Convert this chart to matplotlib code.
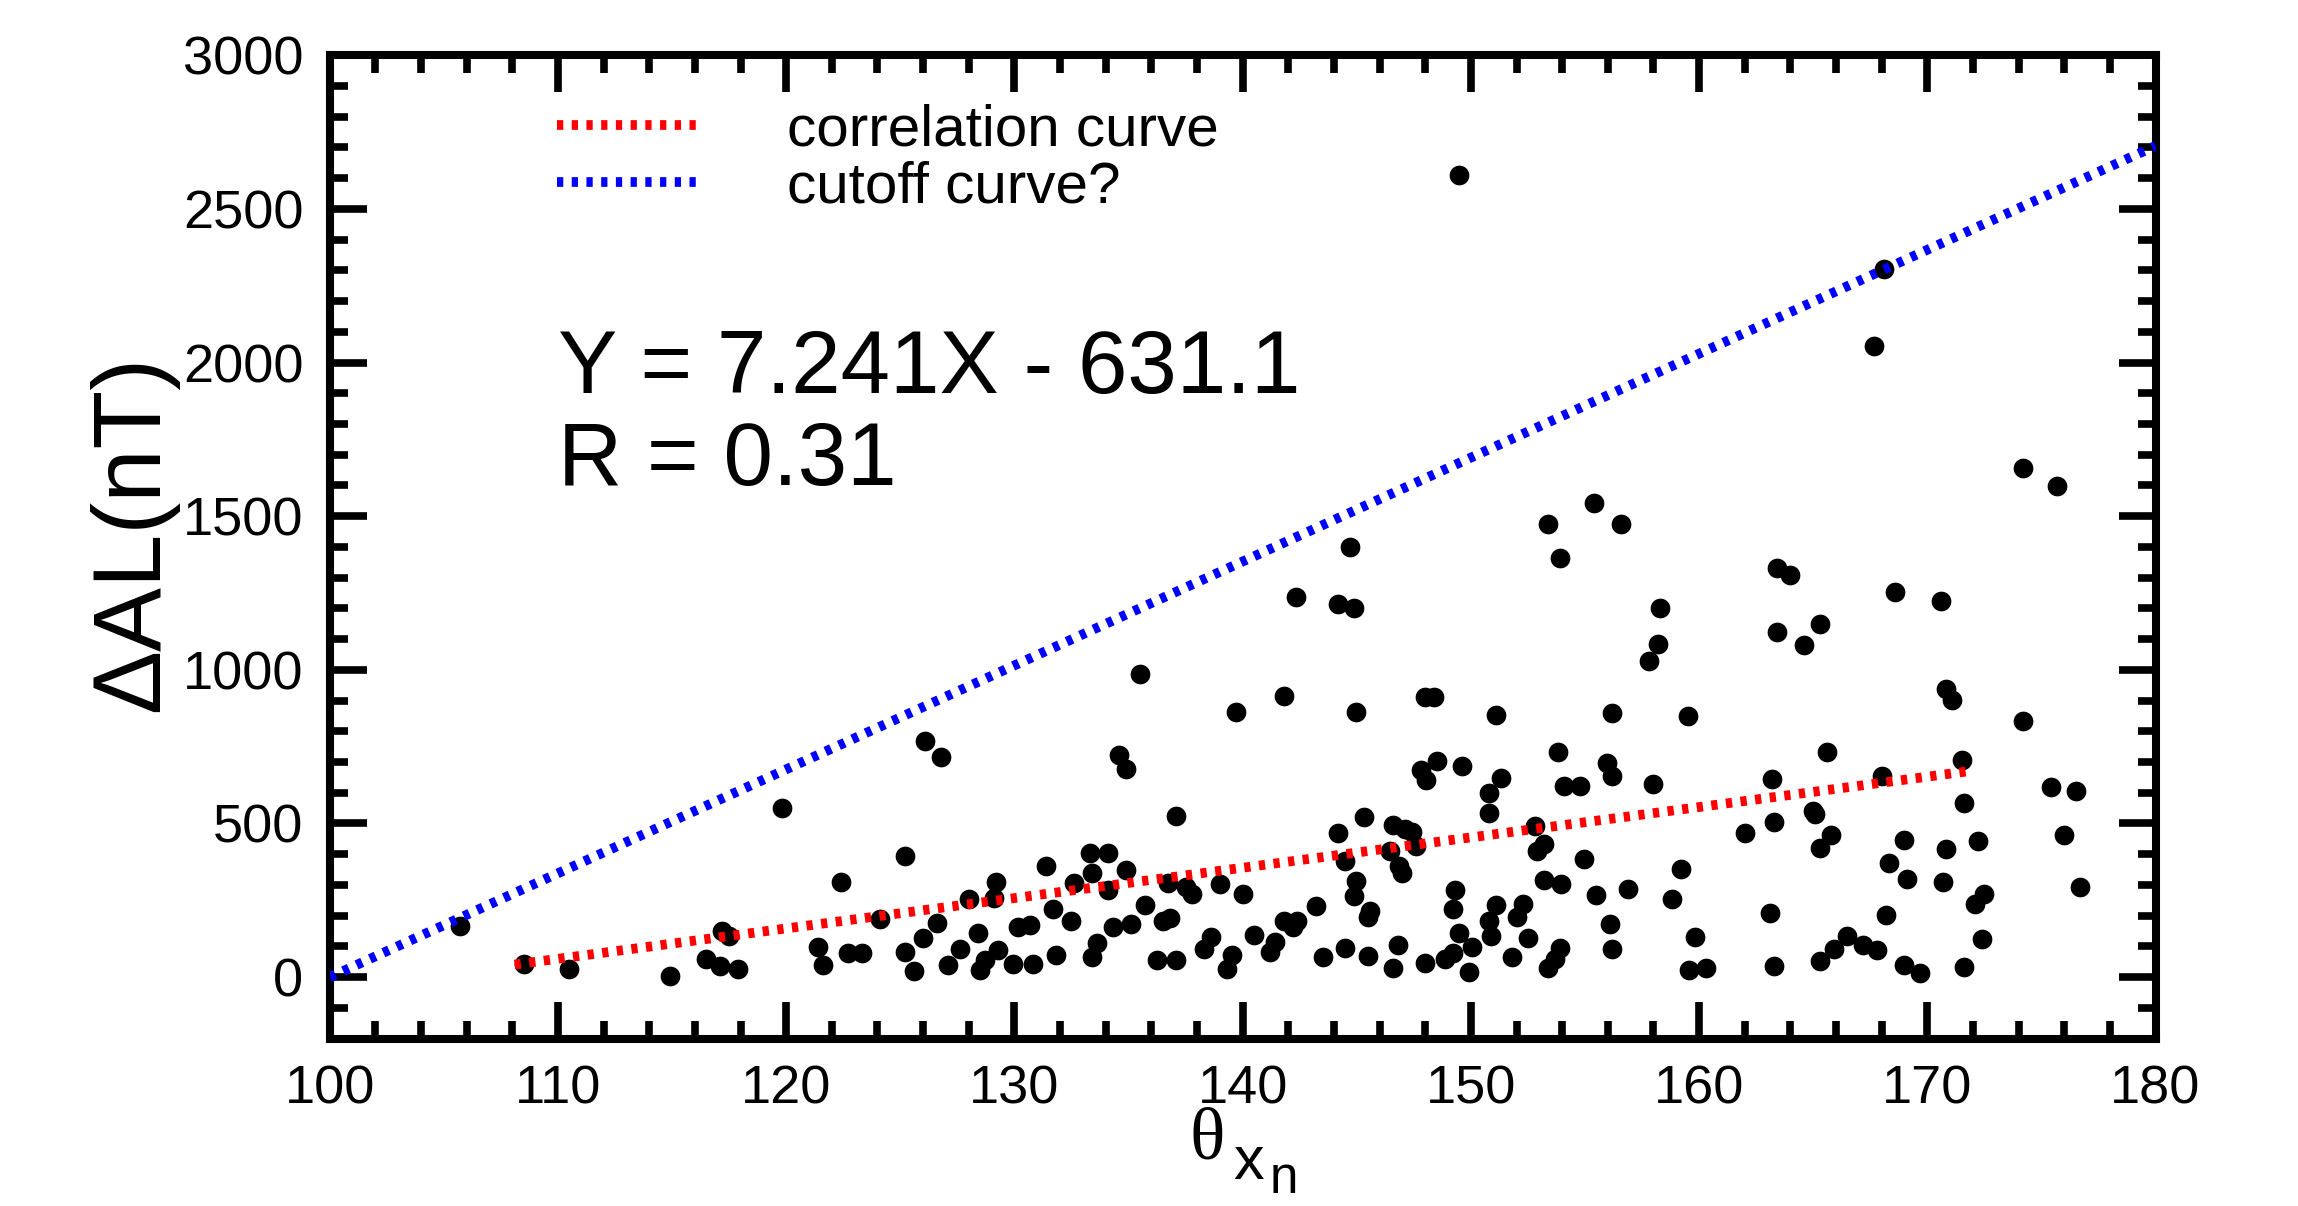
import matplotlib
matplotlib.use('Agg')
import matplotlib.pyplot as plt
from matplotlib.ticker import MultipleLocator

plt.rcParams['font.family'] = ['Liberation Sans', 'DejaVu Sans']
plt.rcParams['lines.scale_dashes'] = False

# scatter data: theta_xn (deg) vs delta AL (nT)
theta_xn = [105.7, 108.5, 110.5, 114.9, 116.5, 117.1, 117.9, 117.2, 117.5, 119.8,
            121.4, 121.6, 122.4, 122.7, 123.3, 124.1, 125.2, 125.2, 125.6, 126.0,
            126.1, 126.6, 126.8, 127.1, 127.6, 128.0, 128.4, 128.5, 128.7, 129.1,
            129.2, 129.3, 129.95, 130.15, 130.7, 130.8, 131.4, 131.7, 131.8, 132.5,
            132.6, 133.3, 133.4, 133.4, 133.6, 134.1, 134.1, 134.3, 134.6, 134.9,
            134.9, 135.1, 135.5, 135.7, 136.25, 136.5, 136.75, 136.8, 137.1, 137.1,
            137.5, 137.8, 138.3, 138.6, 139.0, 139.3, 139.55, 139.7, 140.0, 140.5,
            141.2, 141.4, 141.8, 141.8, 142.2, 142.35, 142.4, 143.2, 143.5, 144.2,
            144.2, 144.5, 144.5, 144.7, 144.9, 144.9, 144.95, 144.95, 145.3, 145.5,
            145.5, 145.6, 146.45, 146.6, 146.6, 146.8, 146.85, 147.0, 147.1, 147.4,
            147.6, 147.8, 148.0, 148.0, 148.05, 148.4, 148.5, 148.85, 149.2, 149.2,
            149.3, 149.5, 149.5, 149.6, 149.9, 150.05, 150.8, 150.8, 150.8, 150.9,
            151.1, 151.1, 151.3, 151.8, 152.0, 152.3, 152.5, 152.8, 152.9, 153.2,
            153.2, 153.4, 153.4, 153.7, 153.8, 153.9, 153.9, 153.97, 154.1, 154.8,
            154.96, 155.4, 155.5, 155.95, 156.1, 156.2, 156.2, 156.2, 156.6, 156.9,
            157.8, 158.0, 158.2, 158.3, 158.8, 159.2, 159.5, 159.55, 159.8, 160.3,
            162.0, 163.1, 163.2, 163.3, 163.3, 163.4, 163.4, 164.0, 164.6, 165.0,
            165.1, 165.3, 165.3, 165.3, 165.6, 165.8, 165.9, 166.5, 167.2, 167.65,
            167.8, 168.0, 168.1, 168.2, 168.3, 168.6, 169.0, 169.0, 169.1, 169.7,
            170.6, 170.7, 170.8, 170.8, 171.1, 171.5, 171.6, 171.6, 172.1, 172.2,
            172.4, 172.5, 174.2, 174.2, 175.4, 175.7, 176.0, 176.5, 176.7]
delta_al = [165, 44, 26, 5, 58, 36, 28, 150, 133, 552,
            98, 40, 308, 77, 77, 189, 394, 81, 19, 127,
            767, 176, 715, 40, 93, 253, 145, 23, 56, 259,
            310, 87, 42, 163, 169, 42, 363, 222, 72, 184,
            307, 403, 340, 65, 110, 404, 284, 163, 722, 678,
            350, 173, 986, 235, 55, 182, 307, 192, 525, 57,
            294, 272, 91, 132, 303, 25, 72, 863, 272, 136,
            82, 113, 916, 182, 163, 1238, 184, 232, 64, 1215,
            469, 379, 95, 1400, 1201, 263, 864, 313, 522, 197,
            69, 216, 409, 496, 30, 105, 363, 338, 481, 471,
            428, 674, 913, 45, 643, 913, 703, 60, 221, 79,
            285, 2610, 143, 688, 18, 97, 599, 535, 182, 135,
            852, 235, 648, 67, 195, 238, 128, 491, 410, 434,
            317, 1476, 29, 60, 733, 1363, 95, 302, 622, 622,
            384, 1544, 268, 696, 173, 859, 656, 92, 1476, 287,
            1028, 628, 1083, 1201, 255, 352, 849, 23, 132, 29,
            469, 210, 645, 505, 37, 1333, 1123, 1308, 1082, 541,
            532, 1149, 421, 54, 733, 462, 92, 133, 104, 2055,
            89, 656, 2306, 201, 372, 1253, 447, 39, 321, 15,
            1225, 308, 937, 417, 903, 706, 566, 32, 238, 443,
            124, 270, 1658, 832, 620, 1599, 464, 606, 294]

# line end points as drawn
corr_x = [108.1, 172.0]
corr_y = [41, 672]
cutoff_x = [100, 180]
cutoff_y = [0, 2705]

fig = plt.figure(figsize=(22.98, 12.06), dpi=100)
ax = fig.add_axes([0.1435, 0.1388, 0.7945, 0.8154])

ax.plot(theta_xn, delta_al, 'o', color='black', ms=14.2, mew=0, zorder=2)
ax.plot(corr_x, corr_y, color='red', lw=7, dashes=(4.5, 6.1),
        label='correlation curve', zorder=3)
ax.plot(cutoff_x, cutoff_y, color='blue', lw=7, dashes=(4.5, 6.1),
        label='cutoff curve?', zorder=3)

ax.set_xlim(100, 180)
ax.set_ylim(-200, 3000)
ax.xaxis.set_major_locator(MultipleLocator(10))
ax.xaxis.set_minor_locator(MultipleLocator(2))
ax.yaxis.set_major_locator(MultipleLocator(500))
ax.yaxis.set_minor_locator(MultipleLocator(100))
ax.tick_params(which='both', direction='in', top=True, right=True,
               width=5.5, labelsize=39, pad=19)
ax.tick_params(which='major', length=26.5)
ax.tick_params(which='minor', length=13)
for sp in ax.spines.values():
    sp.set_linewidth(5.8)

ax.text(110.0, 1902, 'Y = 7.241X - 631.1', fontsize=64, va='baseline')
ax.text(110.0, 1602, 'R = 0.31', fontsize=64, va='baseline')

ax.legend(loc='upper left', bbox_to_anchor=(0.1245, 0.951), frameon=False,
          fontsize=42, handlelength=2.38, handletextpad=1.56,
          labelspacing=0.05, borderpad=0, borderaxespad=0)

# axis labels
fig.text(0.0579, 0.558, '\u0394AL(nT)', rotation=90, fontsize=69,
         ha='center', va='center')
fig.text(0.5175, 0.0395, '\u03b8', fontsize=53, family='Liberation Serif',
         ha='left', va='baseline')
fig.text(0.5366, 0.022, 'x', fontsize=44, ha='left', va='baseline')
fig.text(0.5527, 0.011, 'n', fontsize=37, ha='left', va='baseline')

fig.savefig('out.png', dpi=100)
